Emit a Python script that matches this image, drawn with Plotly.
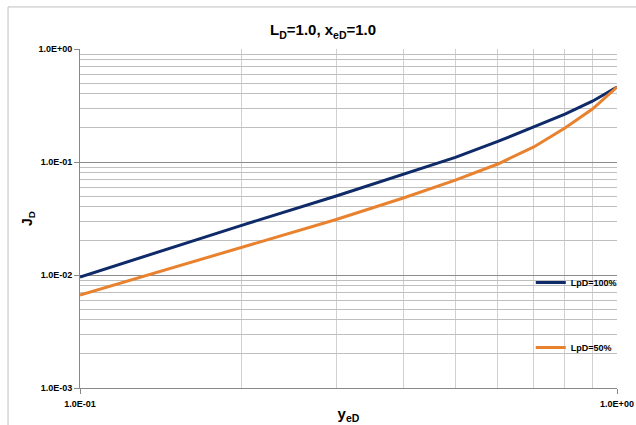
import plotly.graph_objects as go

# Data
y_eD = [0.1, 0.2, 0.3, 0.4, 0.5, 0.6, 0.7, 0.8, 0.9, 1.0]
J_D_100 = [0.0096, 0.0275, 0.05, 0.078, 0.11, 0.152, 0.203, 0.265, 0.345, 0.46]
J_D_50 = [0.00665, 0.0177, 0.031, 0.048, 0.069, 0.096, 0.136, 0.2, 0.294, 0.46]
series_names = ["LpD=100%", "LpD=50%"]
x_tick_vals = [0.1, 1.0]
x_tick_text = ["1.0E-01", "1.0E+00"]
y_tick_vals = [0.001, 0.01, 0.1, 1.0]
y_tick_text = ["1.0E-03", "1.0E-02", "1.0E-01", "1.0E+00"]

FONT = "Liberation Sans Narrow, Arial Narrow, Liberation Sans, Arial, sans-serif"

fig = go.Figure()
fig.add_trace(go.Scatter(x=y_eD, y=J_D_100, mode="lines", name="<b>" + series_names[0] + "</b>",
                         legendgroup="a", line=dict(color="#0F2A68", width=3)))
fig.add_trace(go.Scatter(x=y_eD, y=J_D_50, mode="lines", name="<b>" + series_names[1] + "</b>",
                         legendgroup="b", line=dict(color="#E8822F", width=3)))

fig.update_xaxes(type="log", range=[-1, 0], automargin=False,
                 tickvals=x_tick_vals, ticktext=["<b>%s</b>" % t for t in x_tick_text],
                 ticks="outside", ticklen=5, tickcolor="#888888", ticklabelstandoff=2,
                 tickfont=dict(family=FONT, size=9, color="black"),
                 showgrid=True, gridcolor="#a6a6a6", gridwidth=1,
                 minor=dict(tickvals=[0.2, 0.3, 0.4, 0.5, 0.6, 0.7, 0.8, 0.9],
                            showgrid=True, gridcolor="#d0d0d0", gridwidth=1, ticks=""),
                 showline=True, linecolor="#888888", linewidth=1, mirror=False,
                 zeroline=False,
                 title=dict(text="<b>y<sub>eD</sub></b>", font=dict(family=FONT, size=15, color="black"),
                            standoff=0))
y_minor = []
for d in [0.001, 0.01, 0.1]:
    for m in range(2, 10):
        y_minor.append(round(d * m, 6))
fig.update_yaxes(type="log", range=[-3, 0], automargin=False,
                 tickvals=y_tick_vals, ticktext=["<b>%s</b>" % t for t in y_tick_text],
                 ticks="outside", ticklen=5, tickcolor="#888888",
                 tickfont=dict(family=FONT, size=9, color="black"),
                 showgrid=True, gridcolor="#8c8c8c", gridwidth=1,
                 minor=dict(tickvals=y_minor, showgrid=True, gridcolor="#bfbfbf",
                            gridwidth=1, ticks=""),
                 showline=True, linecolor="#888888", linewidth=1,
                 zeroline=False,
                 title=dict(text="<b>J<sub>D</sub></b>", font=dict(family=FONT, size=14, color="black"),
                            standoff=2))

# white legend panel hiding the grid + outer chart border
fig.add_shape(type="rect", xref="paper", yref="paper", x0=0.847, x1=0.9926, y0=0.0236, y1=0.413,
              fillcolor="white", line=dict(width=0), layer="between")
fig.add_shape(type="rect", xref="paper", yref="paper", x0=-0.134, x1=1.2, y0=-0.3, y1=1.124,
              fillcolor="rgba(0,0,0,0)", line=dict(color="#bfbfbf", width=1), layer="below")

fig.update_layout(
    width=636, height=425,
    margin=dict(l=80, r=19, t=49, b=37, autoexpand=False),
    paper_bgcolor="white", plot_bgcolor="white",
    title=dict(text="<b>L<sub>D</sub>=1.0, x<sub>eD</sub>=1.0</b>", x=0.508, xanchor="center",
               y=0.929, yanchor="middle", font=dict(family=FONT, size=15, color="black"),
               automargin=False),
    showlegend=True,
    legend=dict(x=0.8394, y=0.215, xanchor="left", yanchor="middle",
                bgcolor="rgba(0,0,0,0)", tracegroupgap=46, itemwidth=30,
                font=dict(family=FONT, size=9, color="black")),
)

fig.write_html("out.html", config={"displayModeBar": False},
               post_script="document.body.style.margin='0';document.body.style.overflow='hidden';")
